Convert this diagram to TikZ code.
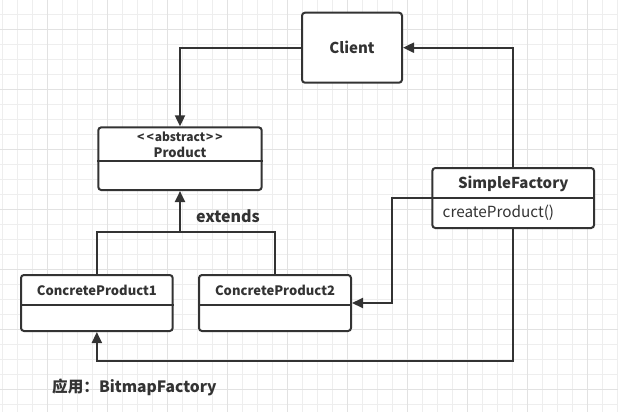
\documentclass[tikz,border=0pt]{standalone}
\usepackage{fontspec}
\setmainfont{Noto Sans CJK SC}
\usetikzlibrary{arrows.meta}
\definecolor{ink}{HTML}{333333}
\definecolor{gridminor}{HTML}{EEEEEE}
\definecolor{gridmajor}{HTML}{E2E2E2}
\tikzset{
  box/.style={draw=ink, line width=2pt, rounded corners=3pt, fill=white, inner sep=0pt},
  conn/.style={draw=ink, line width=2pt},
  arr/.style={conn, -{Triangle[length=11pt,width=10pt]}},
  bigtxt/.style={text=ink, font=\fontsize{15}{18}\selectfont\bfseries, inner sep=0pt},
  midtxt/.style={text=ink, font=\fontsize{13}{16}\selectfont\bfseries, inner sep=0pt},
  smalltxt/.style={text=ink, font=\fontsize{12}{14}\selectfont\bfseries, inner sep=0pt},
  methtxt/.style={text=ink, font=\fontsize{15.3}{18}\selectfont, inner sep=0pt},
  labtxt/.style={text=ink, font=\fontsize{16}{19}\selectfont\bfseries, inner sep=0pt},
}
\begin{document}
\begin{tikzpicture}[x=1pt,y=-1pt]
\useasboundingbox (0,0) rectangle (618,412);
\fill[white] (0,0) rectangle (618,412);
% grid
\foreach \k in {0,...,41} {
  \draw[gridminor, line width=1pt] ({2.5+15*\k},0) -- ({2.5+15*\k},412);
}
\foreach \k in {0,...,27} {
  \draw[gridminor, line width=1pt] (0,{14.3+15*\k}) -- (618,{14.3+15*\k});
}
\foreach \k in {0,...,10} {
  \draw[gridmajor, line width=1pt] ({47.3+60*\k},0) -- ({47.3+60*\k},412);
}
\foreach \k in {0,...,6} {
  \draw[gridmajor, line width=1pt] (0,{29.3+60*\k}) -- (618,{29.3+60*\k});
}

% boxes
\node[box, minimum width=100pt, minimum height=70pt] (client) at (352,47.7) {};
\node[bigtxt] (clientt) at (client) {Client};

\node[box, minimum width=161.7pt, minimum height=60pt] (sf) at (513.2,198) {};
\draw[conn] (sf.west) -- (sf.east);
\node[bigtxt] (sft) at (513.2,183.5) {SimpleFactory};
\node[methtxt, anchor=west] (sfm) at (442.5,213) {createProduct()};

\node[box, minimum width=163.4pt, minimum height=62.7pt] (prod) at (180,158.7) {};
\draw[conn] ([yshift=-2pt]prod.west) -- ([yshift=-2pt]prod.east);
\node[smalltxt] (prodst) at (180,136.5) {<\kern2pt<\kern1pt abstract\kern1pt>\kern2pt>};
\node[midtxt] (prodt) at (180,152) {Product};

\node[box, minimum width=151.7pt, minimum height=56pt] (cp1) at (96.85,303) {};
\draw[conn] ([yshift=-2pt]cp1.west) -- ([yshift=-2pt]cp1.east);
\node[midtxt] (cp1t) at (96.85,290) {ConcreteProduct1};

\node[box, minimum width=152pt, minimum height=56pt] (cp2) at (275,303) {};
\draw[conn] ([yshift=-2pt]cp2.west) -- ([yshift=-2pt]cp2.east);
\node[midtxt] (cp2t) at (275,290) {ConcreteProduct2};

% connectors
\draw[arr] (client.west) -| (prod.north);
\draw[arr] (sf.north) |- (client.east);
\coordinate (sfl) at (391.7,198);
\draw[arr] (sf.west) -- (sfl) |- (cp2.east);
\coordinate (sfb) at (513.2,361);
\draw[arr] (sf.south) -- (sfb) -| (cp1.south);
\coordinate (ext) at (180,232.3);
\coordinate (ext1) at (96.85,232.3);
\coordinate (ext2) at (275,232.3);
\draw[conn] (cp1.north) -- (ext1) -- (ext2) -- (cp2.north);
\draw[arr] (ext) -- (prod.south);

\node[labtxt] (extl) at (228,216) {extends};
\node[labtxt, font=\fontsize{15.6}{19}\selectfont\bfseries, anchor=west] (note) at (52,387) {应用：BitmapFactory};
\end{tikzpicture}
\end{document}
